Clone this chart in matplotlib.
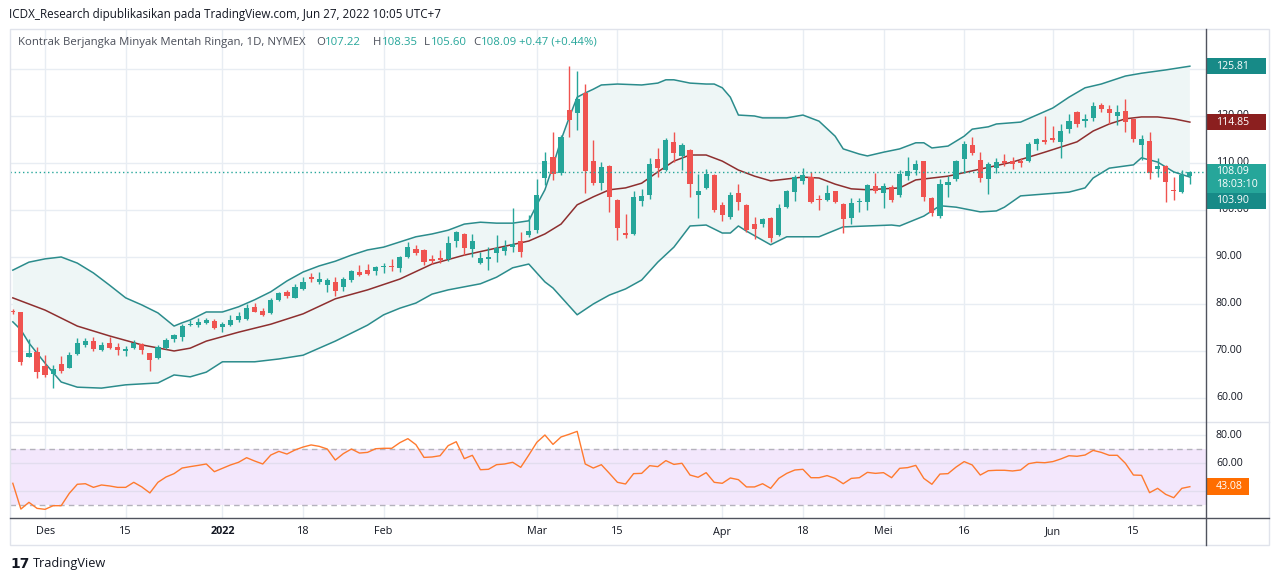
import matplotlib
matplotlib.use("Agg")
import matplotlib.pyplot as plt
import matplotlib.transforms as mtransforms
from matplotlib.lines import Line2D
from matplotlib.patches import Rectangle
import numpy as np
import pandas as pd

plt.rcParams["font.family"] = ["Open Sans", "DejaVu Sans"]

# ---- data (CL1!, daily, 24 Nov 2021 - 27 Jun 2022) ----
holidays = ["2021-11-25", "2021-12-24", "2022-01-17", "2022-02-21",
            "2022-04-15", "2022-05-30", "2022-06-20"]

opens = [78.5, 78.2, 68.8, 69.8, 66.7, 65.1, 67.2, 66.4, 69.3, 71.3,
         72.1, 70.2, 71.6, 70.9, 69.9, 70.6, 71.5, 69.5, 68.6, 70.6,
         72.6, 72.9, 75.5, 75.5, 76.0, 76.4, 75.0, 75.5, 76.6, 76.8,
         79.4, 78.5, 78.0, 80.9, 82.6, 81.3, 83.1, 85.8, 84.7, 84.0,
         84.7, 83.7, 85.0, 86.8, 87.2, 87.0, 87.8, 88.1, 87.6, 90.0,
         91.7, 91.5, 89.6, 89.7, 89.5, 93.5, 94.8, 91.7, 88.8, 89.6,
         90.9, 91.3, 92.2, 93.3, 94.7, 95.7, 106.9, 111.2, 107.8, 121.3,
         120.6, 124.8, 110.4, 105.8, 109.4, 102.1, 95.0, 94.9, 102.0, 103.2,
         110.9, 108.5, 114.4, 111.5, 112.8, 103.2, 104.7, 107.4, 101.1, 98.6,
         103.6, 101.1, 97.0, 97.0, 98.2, 94.7, 100.7, 103.9, 106.2, 107.0,
         102.3, 102.1, 104.0, 101.3, 98.4, 101.6, 101.8, 105.1, 103.7, 104.8,
         103.2, 107.2, 108.5, 110.4, 102.5, 98.7, 105.3, 106.5, 110.8, 113.8,
         110.6, 106.6, 109.0, 110.5, 110.4, 110.4, 110.4, 114.0, 114.9, 115.3,
         114.4, 117.2, 120.9, 118.9, 119.6, 122.3, 121.4, 120.1, 121.1, 119.3,
         113.8, 114.7, 108.7, 109.4, 104.3, 103.8, 107.22]
highs = [78.9, 78.4, 72.5, 70.8, 69.1, 67.0, 68.9, 69.8, 72.7, 72.7,
         72.9, 71.9, 72.9, 71.6, 71.1, 72.3, 71.6, 69.6, 71.3, 72.7,
         73.6, 75.7, 76.6, 77.0, 77.0, 76.8, 76.2, 77.7, 78.4, 79.9,
         80.3, 79.1, 81.2, 82.6, 83.0, 84.3, 85.7, 86.5, 86.8, 85.5,
         85.7, 85.8, 87.2, 88.3, 88.5, 88.1, 88.7, 89.5, 90.2, 93.1,
         92.6, 91.6, 90.4, 91.5, 94.5, 95.6, 95.0, 94.9, 91.1, 92.1,
         94.7, 93.6, 100.4, 95.4, 98.9, 106.7, 112.4, 116.7, 116.0, 130.6,
         129.6, 126.8, 114.9, 110.3, 109.6, 102.3, 99.1, 104.0, 104.5, 111.0,
         113.1, 115.4, 116.5, 114.2, 112.9, 107.7, 108.7, 107.6, 101.8, 103.9,
         105.5, 101.2, 98.6, 98.4, 98.6, 101.2, 104.3, 107.4, 109.0, 108.1,
         103.2, 105.3, 104.1, 101.4, 102.6, 102.6, 105.5, 107.9, 105.8, 105.3,
         108.5, 111.3, 110.6, 110.5, 102.8, 106.5, 107.2, 110.6, 114.7, 115.6,
         112.4, 110.3, 111.0, 111.9, 111.3, 111.1, 114.5, 115.4, 120.0, 117.9,
         118.4, 120.4, 121.1, 120.4, 123.0, 122.8, 122.3, 122.3, 123.6, 119.4,
         116.0, 116.7, 111.0, 109.5, 107.1, 108.5, 108.35]
lows = [77.9, 67.0, 68.7, 64.2, 64.4, 62.2, 65.4, 66.3, 69.1, 70.9,
        70.1, 70.1, 70.4, 69.1, 68.9, 70.5, 69.4, 65.8, 68.4, 70.4,
        72.0, 72.2, 75.3, 75.2, 75.7, 74.7, 74.1, 75.4, 76.2, 76.6,
        78.2, 77.5, 77.9, 80.7, 81.2, 81.2, 83.0, 84.7, 84.3, 82.6,
        81.8, 82.8, 84.7, 86.0, 86.2, 86.2, 86.5, 87.1, 86.7, 89.7,
        90.4, 88.3, 88.5, 88.7, 89.1, 92.1, 90.4, 89.9, 88.5, 87.2,
        89.0, 90.4, 91.1, 89.9, 94.3, 95.2, 105.3, 106.4, 107.4, 115.6,
        117.0, 103.6, 105.3, 104.3, 99.6, 93.6, 94.0, 94.7, 100.9, 102.3,
        107.1, 108.4, 110.3, 108.5, 102.8, 98.4, 104.5, 99.6, 97.7, 98.0,
        99.9, 95.4, 93.8, 96.3, 93.1, 94.5, 100.5, 102.0, 105.5, 101.4,
        99.9, 102.0, 101.4, 95.2, 97.0, 99.6, 100.1, 103.7, 100.4, 101.8,
        102.8, 106.4, 107.4, 101.9, 98.7, 98.2, 102.7, 106.2, 107.9, 111.6,
        106.0, 103.3, 107.9, 109.4, 108.7, 109.2, 110.3, 112.8, 114.0, 114.4,
        111.1, 116.3, 117.7, 117.7, 119.0, 120.9, 118.4, 118.1, 116.7, 114.5,
        110.6, 106.5, 107.0, 101.6, 102.1, 103.6, 105.60]
closes = [78.3, 67.7, 69.5, 65.6, 64.9, 66.1, 65.8, 69.1, 71.6, 72.2,
          70.4, 71.3, 70.7, 70.2, 70.4, 71.8, 70.2, 68.1, 70.8, 72.3,
          73.4, 75.3, 75.7, 76.2, 76.6, 74.8, 75.7, 76.6, 77.4, 79.1,
          78.4, 77.7, 80.9, 82.3, 81.8, 83.6, 84.7, 85.3, 85.3, 85.0,
          82.8, 85.3, 87.0, 86.2, 86.4, 87.8, 88.0, 87.8, 90.0, 92.1,
          90.9, 89.0, 89.1, 89.4, 93.0, 95.4, 91.9, 93.4, 89.7, 89.9,
          91.9, 92.1, 92.7, 91.1, 95.6, 103.2, 110.4, 107.6, 115.6, 119.1,
          123.6, 108.4, 105.7, 109.2, 102.8, 96.1, 94.7, 102.7, 103.0, 109.7,
          109.0, 114.9, 112.2, 113.8, 105.5, 104.0, 107.7, 100.0, 98.9, 103.2,
          101.8, 95.7, 95.9, 98.1, 94.0, 100.4, 104.0, 107.0, 107.4, 101.8,
          102.1, 103.7, 101.8, 98.1, 101.4, 101.9, 105.3, 104.0, 105.1, 102.1,
          107.7, 108.2, 109.8, 102.8, 99.4, 105.5, 106.0, 110.4, 114.0, 112.2,
          106.9, 109.8, 110.3, 109.9, 109.8, 110.1, 114.0, 115.0, 114.4, 114.9,
          116.8, 118.9, 118.2, 119.4, 122.1, 121.4, 120.6, 120.8, 118.8, 115.0,
          115.0, 107.8, 109.4, 106.0, 104.0, 107.4, 108.09]

# Bollinger bands (20, 2) read at sample bars
upper_at = [0, 2, 4, 6, 8, 10, 12, 14, 16, 18, 20, 21, 22, 24, 26, 28, 30, 32, 34, 36,
            38, 40, 42, 44, 46, 48, 50, 52, 54, 56, 58, 60, 62, 64, 65, 66, 67, 68, 69, 70,
            71, 72, 73, 75, 78, 80, 81, 82, 84, 86, 87, 88, 89, 90, 92, 93, 96, 98, 100, 102,
            103, 105, 106, 108, 110, 112, 113, 114, 116, 118, 119, 121, 122, 125, 127, 129,
            131, 133, 135, 138, 140, 143, 146]
upper_val = [87.2, 88.9, 89.6, 90.0, 88.7, 86.6, 84.0, 81.3, 79.8, 78.1, 75.3, 76.0, 76.6,
             78.3, 78.3, 79.4, 80.9, 82.6, 84.9, 86.8, 88.1, 89.1, 90.4, 91.5, 92.1, 93.2,
             94.3, 94.9, 95.7, 97.0, 97.4, 97.2, 97.2, 97.7, 101.1, 104.3, 109.4, 114.9,
             119.6, 124.0, 124.9, 125.7, 126.6, 126.8, 126.6, 127.0, 127.7, 127.7, 127.0,
             126.8, 126.8, 126.0, 124.0, 120.2, 120.0, 119.6, 119.6, 120.2, 118.9, 115.7,
             113.0, 111.9, 111.5, 112.3, 113.0, 114.3, 114.3, 113.2, 113.6, 115.7, 117.2,
             117.7, 118.3, 118.7, 120.2, 121.7, 124.0, 126.0, 126.8, 128.5, 129.1, 129.8,
             130.6]
mid_at = [0, 4, 8, 12, 16, 20, 22, 24, 28, 32, 36, 40, 44, 48, 52, 56, 60, 64, 66, 68,
          70, 72, 74, 76, 78, 80, 82, 84, 86, 88, 90, 92, 94, 96, 98, 100, 102, 104, 106, 108,
          110, 112, 116, 120, 124, 128, 132, 134, 136, 138, 140, 142, 144, 146]
mid_val = [81.3, 78.7, 75.3, 73.2, 71.3, 70.0, 70.6, 72.1, 74.0, 75.7, 77.9, 81.1, 83.0,
           85.3, 88.5, 90.4, 91.9, 93.4, 94.9, 97.0, 101.1, 102.8, 104.3, 104.7, 105.7,
           108.1, 110.4, 111.7, 111.7, 110.4, 108.5, 107.2, 106.2, 106.6, 107.0, 106.8,
           105.5, 104.5, 104.3, 104.5, 104.7, 106.4, 107.2, 108.7, 110.2, 112.3, 114.5,
           116.8, 118.3, 119.4, 119.8, 119.8, 119.4, 118.7]
lower_at = [0, 1, 2, 4, 6, 8, 11, 14, 18, 20, 22, 24, 26, 30, 33, 36, 40, 44, 46, 48,
            50, 52, 54, 58, 60, 62, 64, 66, 67, 70, 72, 74, 76, 78, 80, 82, 84, 86, 88, 89,
            90, 91, 94, 96, 100, 103, 106, 109, 110, 113, 115, 117, 120, 122, 123, 125, 128,
            131, 133, 134, 136, 139, 140, 142, 144, 146]
lower_val = [76.2, 74.5, 71.7, 67.4, 63.4, 62.3, 62.1, 62.8, 63.2, 64.9, 64.5, 65.5, 67.7,
             67.7, 68.3, 69.1, 72.1, 75.5, 77.7, 79.1, 80.2, 82.1, 83.0, 84.3, 85.7, 87.7,
             88.5, 84.7, 83.4, 77.7, 80.0, 81.9, 83.2, 85.1, 88.9, 92.1, 96.6, 96.8, 95.1,
             95.1, 96.6, 95.5, 92.6, 94.3, 94.3, 96.4, 96.6, 96.8, 96.6, 98.7, 100.9, 100.6,
             99.6, 99.8, 100.6, 103.0, 103.4, 103.8, 104.7, 106.8, 108.9, 109.6, 111.1,
             110.2, 108.1, 107.0]

rsi = [45.5, 27.1, 31.9, 27.6, 26.9, 29.5, 29.5, 38.3, 44.8, 45.2,
       42.6, 44.3, 43.6, 42.6, 42.6, 46.2, 42.9, 38.6, 46.2, 50.0,
       52.4, 56.4, 57.4, 58.3, 59.3, 53.8, 56.2, 58.6, 60.5, 63.8,
       61.4, 59.3, 65.7, 68.3, 66.4, 69.3, 71.4, 72.9, 71.9, 70.0,
       62.1, 66.7, 70.0, 67.1, 67.6, 70.2, 70.5, 70.5, 74.5, 77.4,
       73.1, 64.0, 64.3, 65.2, 72.4, 75.2, 63.1, 65.5, 55.2, 55.5,
       58.8, 59.3, 60.5, 56.9, 65.7, 74.8, 80.0, 73.3, 78.6, 80.5,
       82.6, 59.3, 56.4, 58.8, 52.6, 46.2, 45.0, 52.4, 52.6, 58.1,
       57.4, 61.7, 59.0, 59.8, 51.4, 49.8, 53.1, 46.2, 45.5, 49.3,
       48.1, 42.9, 42.9, 45.2, 41.9, 49.0, 52.6, 55.0, 55.5, 49.5,
       49.5, 51.0, 49.0, 45.2, 49.0, 49.5, 53.3, 52.6, 53.1, 49.5,
       56.2, 56.7, 58.3, 49.0, 44.8, 52.1, 52.4, 57.1, 61.0, 58.6,
       51.4, 54.5, 54.8, 54.8, 54.3, 55.0, 59.5, 60.5, 60.2, 61.0,
       62.9, 65.2, 64.8, 65.7, 69.0, 67.6, 65.5, 65.5, 59.8, 51.4,
       51.2, 38.8, 41.9, 37.6, 35.2, 41.9, 43.08]

tick_dates = ["2021-12-01", "2021-12-15", "2022-01-03", "2022-01-18", "2022-02-01",
              "2022-03-01", "2022-03-15", "2022-04-01", "2022-04-18", "2022-05-02",
              "2022-05-16", "2022-06-01", "2022-06-15"]
tick_labels = ["Des", "15", "2022", "18", "Feb", "Mar", "15", "Apr", "18", "Mei",
               "16", "Jun", "15"]

price_levels = [60, 70, 80, 90, 100, 110, 120, 130]
rsi_levels = [80, 60, 40]
# scale labels that the reference hides under the value tags
hidden_levels = [130, 40]

# band end labels as shown on the price scale
upper_label = "125.81"
mid_label = "114.85"
lower_label = "103.90"
countdown = "18:03:10"
change_text = "+0.47 (+0.44%)"

UP = "#26A69A"
DOWN = "#EF5350"
BAND = "#2B8C8C"
BASIS = "#8E2F2F"
GRID = "#E8EDF3"
TEXT = "#131722"
AXIS = "#50535E"
MUTED = "#4A4E59"

sessions = pd.bdate_range("2021-11-24", "2022-06-27")
sessions = sessions[~sessions.isin(pd.to_datetime(holidays))]
pos = {d: i for i, d in enumerate(sessions)}
tick_idx = [pos[pd.Timestamp(d)] for d in tick_dates]

W, H = 1280, 581


def fx(x):
    return x / W


def fy(y):
    return 1 - y / H


fig = plt.figure(figsize=(W / 100, H / 100), dpi=100)
fig.patch.set_facecolor("white")

ax = fig.add_axes([fx(10), fy(422), fx(1206) - fx(10), fy(29) - fy(422)])
ax_rsi = fig.add_axes([fx(10), fy(518), fx(1206) - fx(10), fy(422) - fy(518)])

x = np.arange(len(closes))
o = np.array(opens)
c = np.array(closes)
colors = np.where(c >= o, UP, DOWN)

for a in (ax, ax_rsi):
    a.set_xlim(-0.35, 148.0)
    for s in a.spines.values():
        s.set_visible(False)
    a.set_xticks([])
    a.set_yticks([])
    for t in tick_idx:
        a.axvline(t, color=GRID, lw=1, zorder=0)

# price pane
ax.set_ylim(54.89, 138.51)
for lv in price_levels:
    ax.axhline(lv, color=GRID, lw=1, zorder=0)

band_x = np.concatenate([upper_at, lower_at[::-1]])
band_y = np.concatenate([upper_val, lower_val[::-1]])
ax.fill(band_x, band_y, color="#EEF6F6", lw=0, zorder=1)
ax.plot(upper_at, upper_val, color=BAND, lw=1.1, zorder=2)
ax.plot(lower_at, lower_val, color=BAND, lw=1.1, zorder=2)
ax.plot(mid_at, mid_val, color=BASIS, lw=1.1, zorder=2)

ax.vlines(x, lows, highs, colors=colors, lw=1, zorder=3)
body = np.maximum(np.abs(c - o), 0.2)
ax.bar(x, body, bottom=np.minimum(o, c), width=0.64, color=colors, lw=0, zorder=4)

ax.axhline(closes[-1], color=UP, lw=1, ls=(0, (1, 2)), zorder=5)

# rsi pane
ax_rsi.set_ylim(20.71, 89.29)
ax_rsi.axhspan(30, 70, color="#F3E7FC", lw=0, zorder=0)
for lv in rsi_levels:
    ax_rsi.axhline(lv, color="#E2DDEE" if 30 < lv < 70 else GRID, lw=1, zorder=0.5)
for lv in (70, 30):
    ax_rsi.axhline(lv, color="#B4B2BC", lw=1, ls=(0, (4, 3)), zorder=1)
ax_rsi.plot(x, rsi, color="#FF7A2E", lw=1, zorder=3)

# price scale labels
ptr = mtransforms.blended_transform_factory(fig.transFigure, ax.transData)
rtr = mtransforms.blended_transform_factory(fig.transFigure, ax_rsi.transData)
for lv in price_levels:
    if lv in hidden_levels:
        continue
    ax.text(fx(1216), lv, f"{lv:.2f}", transform=ptr, fontsize=7.6, color=TEXT,
            va="center", ha="left", clip_on=False)
for lv in rsi_levels:
    if lv in hidden_levels:
        continue
    ax_rsi.text(fx(1216), lv, f"{lv:.2f}", transform=rtr, fontsize=7.6, color=TEXT,
                va="center", ha="left", clip_on=False)

px_unit = (138.51 - 54.89) / (422 - 29)  # price per pixel


def tag(a, tr, yc, h_px, w_px, color, lines, unit):
    h = h_px * unit
    a.add_patch(Rectangle((fx(1207), yc - h / 2), fx(1207 + w_px) - fx(1207), h,
                          transform=tr, color=color, lw=0, zorder=10, clip_on=False))
    step = 13 * unit
    top = yc + (len(lines) - 1) * step / 2
    for k, s in enumerate(lines):
        a.text(fx(1216), top - k * step, s, transform=tr, fontsize=7.6, color="white",
               va="center", ha="left", zorder=11, clip_on=False)


tag(ax, ptr, upper_val[-1], 16, 59, "#178A87", [upper_label], px_unit)
tag(ax, ptr, mid_val[-1], 16, 59, "#8B1F1F", [mid_label], px_unit)
# current price tag (price + bar countdown), lower band tag pushed below it
cur_center = closes[-1] - 6.5 * px_unit
tag(ax, ptr, cur_center, 29, 59, UP, [f"{closes[-1]:.2f}", countdown], px_unit)
tag(ax, ptr, cur_center - 22.5 * px_unit, 16, 59, "#178A87", [lower_label], px_unit)
rsi_unit = (89.29 - 20.71) / (518 - 422)
tag(ax_rsi, rtr, rsi[-1], 17, 42, "#FF6D00", [f"{rsi[-1]:.2f}"], rsi_unit)

# date labels
dtr = mtransforms.blended_transform_factory(ax_rsi.transData, fig.transFigure)
for t, lab in zip(tick_idx, tick_labels):
    ax_rsi.text(t, fy(532), lab, transform=dtr, fontsize=7.8, color=TEXT, ha="center",
                va="center", clip_on=False,
                fontweight="bold" if lab.isdigit() and len(lab) == 4 else "normal")

# frame and scale separators
fig.add_artist(Rectangle((fx(9.5), fy(545)), fx(1269) - fx(9.5), fy(29) - fy(545),
                         transform=fig.transFigure, fill=False, ec="#E0E3EB", lw=1))
fig.add_artist(Line2D([fx(9.5), fx(1269)], [fy(422), fy(422)], color="#E0E3EB", lw=1))
fig.add_artist(Line2D([fx(1206), fx(1206)], [fy(29), fy(545)], color=AXIS, lw=1))
fig.add_artist(Line2D([fx(9.5), fx(1269)], [fy(518), fy(518)], color=AXIS, lw=1))

# header
fig.text(fx(9), fy(14.5), "ICDX_Research dipublikasikan pada TradingView.com, Jun 27, 2022 10:05 UTC+7",
         fontsize=8.4, color=TEXT, va="center", ha="left")

renderer = fig.canvas.get_renderer()
fig.text(fx(18), fy(42.5), "Kontrak Berjangka Minyak Mentah Ringan, 1D, NYMEX",
         fontsize=8.2, color=MUTED, va="center", ha="left")
ohlc = [(316, "O", opens[-1]), (373, "H", highs[-1]), (424, "L", lows[-1]), (473, "C", closes[-1])]
for lx, letter, val in ohlc:
    t = fig.text(fx(lx), fy(42.5), letter, fontsize=8.2, color=MUTED, va="center", ha="left")
    w = t.get_window_extent(renderer).width
    fig.text(fx(lx + w + 0.5), fy(42.5), f"{val:.2f}", fontsize=8.2, color=UP,
             va="center", ha="left")
fig.text(fx(519), fy(42.5), change_text, fontsize=8.2, color=UP, va="center", ha="left")

# footer logo
fig.text(fx(10), fy(564), "17", fontsize=10, fontweight="heavy", color=TEXT,
         va="center", ha="left", family="DejaVu Sans")
fig.text(fx(33), fy(564), "TradingView", fontsize=9.2, color=TEXT, va="center", ha="left")

fig.savefig("out.png", dpi=100)
